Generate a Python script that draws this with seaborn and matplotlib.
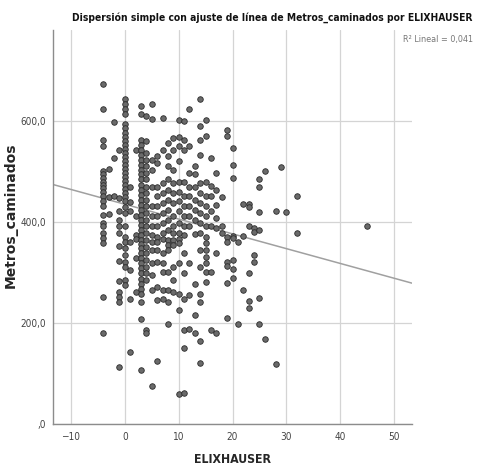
import matplotlib
matplotlib.use('Agg')
import matplotlib.pyplot as plt
import pandas as pd
import seaborn as sns
from matplotlib import font_manager

# ELIXHAUSER score (x) and metres walked (y)
elix_cols = [-4, -3, -2, -1, 0, 1, 2, 3, 4, 5, 6, 7, 8, 9, 10, 11, 12, 13, 14,
             15, 16, 17, 18, 19, 20, 21, 22, 23, 24, 25, 26, 28, 29, 30, 32, 45]
metros_cols = [
    [673, 623, 563, 550, 500, 494, 487, 480, 474, 467, 460, 451, 441, 431, 414,
     398, 391, 378, 368, 359, 252, 180],
    [505, 450, 415],
    [597, 527, 452],
    [543, 447, 421, 404, 391, 378, 352, 323, 283, 262, 252, 242, 112],
    [643, 633, 623, 613, 593, 585, 577, 569, 561, 553, 545, 537, 529, 521, 513,
     505, 497, 489, 481, 473, 465, 457, 449, 441, 430, 417, 391, 371, 360, 348,
     334, 321, 311, 285, 275],
    [470, 440, 421, 361, 305, 248, 142],
    [543, 411, 375, 366, 328, 262],
    [630, 613, 563, 553, 543, 533, 523, 513, 503, 494, 484, 474, 464, 454, 444,
     434, 424, 414, 404, 394, 384, 374, 364, 356, 348, 338, 328, 318, 308, 298,
     288, 278, 268, 258, 242, 208, 106],
    [609, 560, 536, 523, 510, 497, 484, 470, 457, 444, 431, 418, 404, 391, 378,
     364, 351, 338, 324, 311, 298, 285, 186, 180],
    [634, 603, 523, 503, 470, 431, 411, 391, 375, 361, 344, 318, 295, 265, 75],
    [530, 516, 470, 451, 431, 411, 391, 371, 360, 344, 321, 271, 245, 125],
    [605, 543, 477, 457, 437, 418, 398, 378, 366, 338, 318, 301, 265, 248],
    [556, 530, 510, 484, 464, 444, 424, 404, 384, 364, 355, 344, 301, 265, 242, 198],
    [566, 543, 503, 477, 457, 437, 411, 391, 378, 364, 354, 311, 285, 262],
    [601, 568, 550, 520, 480, 460, 441, 421, 398, 378, 366, 358, 318, 258, 225, 60],
    [600, 563, 543, 480, 451, 431, 411, 391, 374, 338, 298, 248, 186, 150, 62],
    [624, 550, 497, 470, 451, 431, 411, 391, 318, 255, 189],
    [510, 494, 470, 444, 424, 404, 377, 278, 215, 180],
    [643, 590, 563, 533, 477, 457, 437, 418, 398, 378, 344, 311, 258, 242, 165, 120],
    [601, 570, 480, 451, 431, 411, 391, 371, 358, 344, 331, 318, 301, 281],
    [527, 472, 451, 421, 391, 301, 186],
    [497, 464, 434, 408, 388, 339, 180],
    [450, 391, 378],
    [582, 571, 371, 361, 321, 312, 280, 210],
    [546, 512, 487, 372, 368, 324, 306, 290],
    [361, 198],
    [436, 372, 265],
    [436, 429, 391, 298, 244, 230],
    [387, 381, 334, 320],
    [485, 469, 419, 384, 250, 198],
    [500, 168],
    [421, 119],
    [509],
    [419],
    [452, 379],
    [391],
]

# linear fit as drawn in the chart (R² lineal = 0,041)
fit_intercept = 435.0
fit_slope = -2.93

x_ticks = [-10, 0, 10, 20, 30, 40, 50]
y_ticks = [0, 200, 400, 600]
y_tick_labels = [',0', '200,0', '400,0', '600,0']

rows = []
for e, ms in zip(elix_cols, metros_cols):
    for m in ms:
        rows.append({'ELIXHAUSER': e, 'Metros_caminados': m})
df = pd.DataFrame(rows)

sns.set_style('white')
plt.rcParams['font.family'] = ['DejaVu Sans']


def find_condensed(bold):
    # condensed faces give the narrow SPSS look
    files = []
    for f in font_manager.fontManager.ttflist:
        name = f.fname.lower()
        if 'condensed' not in name or 'oblique' in name or 'italic' in name:
            continue
        if ('bold' in name) == bold:
            files.append(f.fname)
    if files:
        return font_manager.FontProperties(fname=sorted(files)[0])
    return font_manager.FontProperties(family='DejaVu Sans',
                                       weight='bold' if bold else 'normal')


cond_bold = find_condensed(True)
cond_reg = find_condensed(False)

fig = plt.figure(figsize=(4.79, 4.68), dpi=100)
ax = fig.add_axes([0.111, 0.094, 0.749, 0.842])

ax.set_xlim(-13.3, 53.3)
ax.set_ylim(0, 780)
ax.set_xticks(x_ticks)
ax.set_yticks(y_ticks)
ax.set_yticklabels(y_tick_labels)
ax.grid(True, color='#d4d4d4', linewidth=0.9)
ax.set_axisbelow(True)

sns.scatterplot(data=df, x='ELIXHAUSER', y='Metros_caminados', ax=ax,
                s=16, color='#6a6a6a', edgecolor='#2b2b2b', linewidth=0.6,
                zorder=3)
ax.axline((0, fit_intercept), slope=fit_slope, color='#a0a0a0',
          linewidth=1.1, zorder=2)
ax.set_xlim(-13.3, 53.3)
ax.set_ylim(0, 780)

for side in ['top', 'right']:
    ax.spines[side].set_visible(False)
for side in ['left', 'bottom']:
    ax.spines[side].set_color('#8c8c8c')
    ax.spines[side].set_linewidth(1.0)
ax.tick_params(axis='x', length=0, colors='#444444', pad=6)
ax.tick_params(axis='y', length=3, color='#8c8c8c', labelcolor='#444444', pad=2)
for lab in ax.get_xticklabels() + ax.get_yticklabels():
    lab.set_fontproperties(cond_reg)
    lab.set_fontsize(7.2)

ax.set_xlabel('ELIXHAUSER', fontproperties=cond_bold, fontsize=8.8, labelpad=8)
ax.set_ylabel('Metros_caminados', fontsize=10, fontweight='bold')
ax.yaxis.set_label_coords(-0.1, 0.53)

fig.text(0.569, 0.962, 'Dispersión simple con ajuste de línea de Metros_caminados por ELIXHAUSER',
         ha='center', va='center', fontproperties=cond_bold, fontsize=7.4,
         color='#111111')
fig.text(0.987, 0.915, 'R² Lineal = 0,041', ha='right', va='center',
         fontproperties=cond_reg, fontsize=6.5, color='#777777')

fig.savefig('out.png', dpi=100)
